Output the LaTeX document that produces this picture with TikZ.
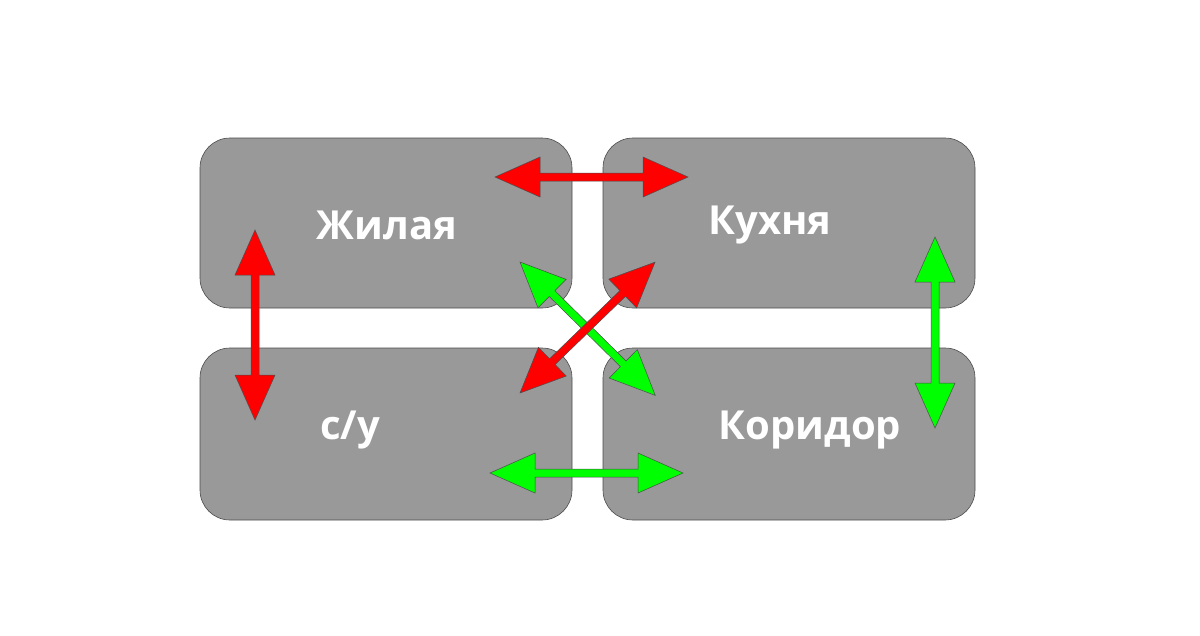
\documentclass[tikz,border=0pt]{standalone}
\usepackage{fontspec}
\setmainfont{Open Sans}
\definecolor{boxg}{HTML}{999999}
\definecolor{rd}{HTML}{FF0000}
\definecolor{gr}{HTML}{00FF00}
\newcommand\dblarr[5]{% color, x, y, angle, length
\begin{scope}[shift={(#2,#3)},rotate=#4,x=1pt,y=1pt]
\filldraw[fill=#1,draw=black!70,line width=0.5pt] (0,0)--(45,20)--(45,4)--(#5-45,4)--(#5-45,20)--(#5,0)--(#5-45,-20)--(#5-45,-4)--(45,-4)--(45,-20)--cycle;
\end{scope}}
\begin{document}
\begin{tikzpicture}[x=1pt,y=-1pt,
 room/.style={fill=boxg,draw=black!70,line width=0.6pt,rounded corners=30pt},
 lbl/.style={text=white,font=\bfseries\fontsize{40}{40}\selectfont}]
\useasboundingbox[fill=white] (0,0) rectangle (1200,635);
\draw[room] (200,138) rectangle (572,308);
\draw[room] (603,138) rectangle (975,308);
\draw[room] (200,348) rectangle (572,520);
\draw[room] (603,348) rectangle (975,520);
\node[lbl] (zh) at (387,225) {Жилая};
\node[lbl] (ku) at (770,225) {Кухня};
\node[lbl] (su) at (350,430) {с/у};
\node[lbl] (ko) at (810,430) {Коридор};
\dblarr{rd}{495}{177}{0}{193}
\dblarr{rd}{255}{420}{90}{190}
\dblarr{gr}{935}{428}{90}{191}
\dblarr{gr}{490}{473}{0}{193}
\dblarr{gr}{520}{262}{-44.6}{190}
\dblarr{rd}{520}{393}{44.1}{188}
\end{tikzpicture}
\end{document}
